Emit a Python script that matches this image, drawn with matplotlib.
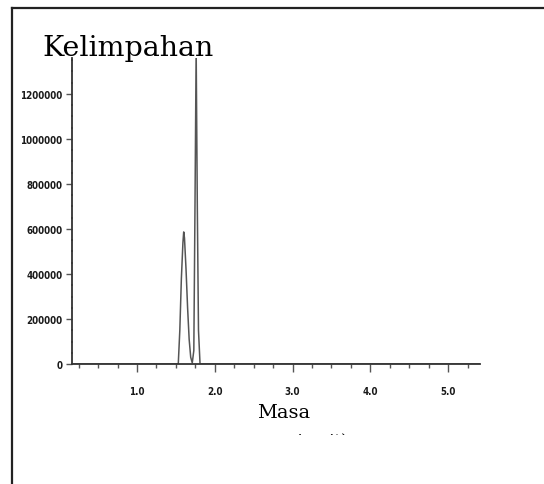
import matplotlib.pyplot as plt
from matplotlib.lines import Line2D
from matplotlib.transforms import Bbox

# retention / mass axis and abundance
masa = [0.16, 1.53, 1.55, 1.57, 1.59, 1.60, 1.61, 1.63, 1.65, 1.67, 1.69, 1.71,
        1.73, 1.745, 1.76, 1.775, 1.79, 1.81, 5.41]
kelimpahan = [0, 0, 150000, 380000, 540000, 587000, 560000, 420000, 250000,
              110000, 30000, 5000, 60000, 700000, 1400000, 700000, 150000, 0, 0]

x_ticks = [1.0, 2.0, 3.0, 4.0, 5.0]
y_ticks = [0, 200000, 400000, 600000, 800000, 1000000, 1200000]

fig = plt.figure(figsize=(5.44, 4.85), dpi=100)
ax = fig.add_axes([0.1324, 0.2474, 0.75, 0.631])

ax.plot(masa, kelimpahan, color='#555555', lw=1.1)

ax.set_xlim(0.164, 5.41)
ax.set_ylim(0, 1360000)
for s in ['top', 'right']:
    ax.spines[s].set_visible(False)
for s in ['left', 'bottom']:
    ax.spines[s].set_color('#333333')
    ax.spines[s].set_linewidth(1.3)

ax.set_xticks(x_ticks)
ax.set_xticklabels(['%.1f' % v for v in x_ticks])
ax.set_xticks([v / 4 for v in range(1, 22) if v % 4 != 0], minor=True)
ax.set_yticks(y_ticks)
ax.set_yticklabels([str(v) for v in y_ticks])
ax.set_yticks([v * 50000 for v in range(1, 28) if v % 4 != 0], minor=True)

ax.tick_params(axis='x', which='major', direction='out', length=6, width=1,
               colors='#555555', labelcolor='#1a1a1a', pad=10)
ax.tick_params(axis='x', which='minor', direction='out', length=3, width=1,
               colors='#555555')
ax.tick_params(axis='y', which='major', direction='out', length=4, width=1,
               colors='#555555', labelcolor='#1a1a1a', pad=3)
ax.tick_params(axis='y', which='minor', direction='inout', length=2, width=1.2,
               colors='#555555')
for lab in ax.get_xticklabels() + ax.get_yticklabels():
    lab.set_family('DejaVu Sans')
    lab.set_stretch('condensed')
    lab.set_fontsize(7)
    lab.set_fontweight('bold')

fig.text(42 / 544, 1 - 56 / 485, 'Kelimpahan', family='DejaVu Serif',
         fontsize=20.5, ha='left', va='baseline')
fig.text(284 / 544, 1 - 418 / 485, 'Masa', family='DejaVu Serif',
         fontsize=14, ha='center', va='baseline')

# second line of the axis caption is cut off in the original box
cut = fig.text(289 / 544, 1 - 446 / 485, 'si unit)', family='DejaVu Serif',
               fontsize=12, ha='left', va='baseline')
cut.set_clip_box(Bbox.from_extents(0, 485 - 436, 544, 485))
cut.set_clip_on(True)

# frame of the scanned figure box
fig.add_artist(Line2D([11.5 / 544, 1], [1 - 8.5 / 485] * 2,
                      transform=fig.transFigure, color='#222222', lw=1.6))
fig.add_artist(Line2D([11.5 / 544] * 2, [0, 1 - 8.5 / 485],
                      transform=fig.transFigure, color='#222222', lw=1.6))

fig.savefig('out.png', dpi=100)
